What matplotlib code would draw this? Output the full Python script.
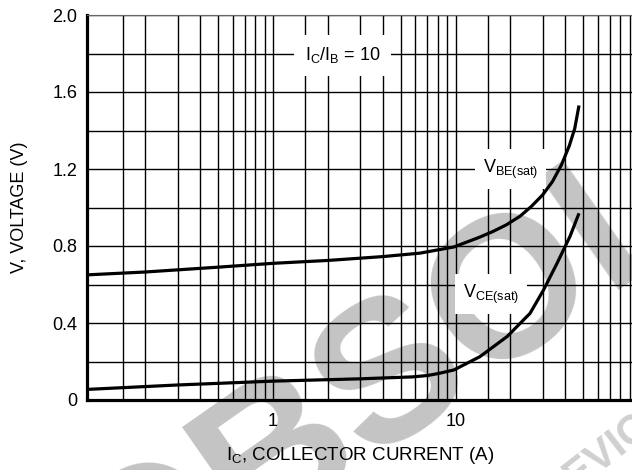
import numpy as np
import matplotlib
matplotlib.use('Agg')
from matplotlib import pyplot as plt
from matplotlib import font_manager
from matplotlib.ticker import FixedLocator, NullFormatter

# saturation voltages vs collector current, IC/IB = 10
ic_vbe = [0.0957, 0.2, 0.5, 1, 2, 4, 6.4, 9.8, 13.5, 16, 19, 22.6, 26, 30, 34, 38, 42, 45, 47.5]
vbe = [0.65, 0.665, 0.69, 0.71, 0.725, 0.745, 0.763, 0.795, 0.845, 0.875, 0.91, 0.955,
       1.005, 1.065, 1.135, 1.22, 1.32, 1.41, 1.53]

ic_vce = [0.0957, 0.3, 1, 3, 5.8, 7, 8, 9.8, 13.6, 19.2, 25.6, 30.3, 36, 42.4, 47.5]
vce = [0.055, 0.078, 0.098, 0.11, 0.12, 0.127, 0.137, 0.156, 0.225, 0.33, 0.45, 0.57,
       0.71, 0.85, 0.97]

x_ticks = [1, 10]
x_ticklabels = ['1', '10']
y_ticks = [0, 0.4, 0.8, 1.2, 1.6, 2.0]
y_ticklabels = ['0', '0.4', '0.8', '1.2', '1.6', '2.0']
grid_mult = [1.5, 2, 3, 4, 5, 6, 7, 8, 9, 10]
decades = [0.1, 1, 10]

names = {f.name for f in font_manager.fontManager.ttflist}
font = 'Liberation Sans Narrow' if 'Liberation Sans Narrow' in names else 'Liberation Sans'
plt.rcParams['font.family'] = [font, 'DejaVu Sans']

fig = plt.figure(figsize=(6.32, 4.70), dpi=100)
ax = fig.add_axes([87/632, 70/470, 545/632, 385/470])
ax.patch.set_alpha(0)

# watermark behind the grid
fig.text(546/632, 1 - 272/470, 'OBSOLETE', rotation=35, rotation_mode='anchor',
         fontsize=145, color='#c4c4c4', ha='center', va='center',
         fontweight='bold', family='Liberation Sans', zorder=-5)
fig.text(606/632, 1 - 452/470, 'DEVICE', rotation=38, rotation_mode='anchor',
         fontsize=30, color='#d0d0d0', ha='center', va='center',
         fontweight='bold', family='Liberation Sans', zorder=-5)

ax.set_xscale('log')
ax.set_xlim(0.0957, 92.7)
ax.set_ylim(0, 2.0)

grid_x = [d * m for d in decades for m in grid_mult]
ax.xaxis.set_major_locator(FixedLocator(x_ticks))
ax.set_xticklabels(x_ticklabels)
ax.xaxis.set_minor_locator(FixedLocator(grid_x))
ax.xaxis.set_minor_formatter(NullFormatter())
ax.set_yticks(y_ticks)
ax.set_yticklabels(y_ticklabels)
ax.yaxis.set_minor_locator(FixedLocator(np.arange(0, 2.01, 0.2)))

ax.tick_params(which='both', length=0, labelsize=13)
ax.tick_params(axis='x', pad=9)
ax.tick_params(axis='y', pad=7)
ax.grid(which='both', color='black', linewidth=1.0)
ax.set_axisbelow(True)

for s in ['left', 'bottom']:
    ax.spines[s].set_linewidth(2.3)
ax.spines['right'].set_visible(False)
ax.spines['top'].set_linewidth(0.8)
ax.spines['top'].set_color('#666666')

ax.plot(ic_vbe, vbe, color='black', linewidth=2.3, zorder=5, solid_capstyle='butt')
ax.plot(ic_vce, vce, color='black', linewidth=2.3, zorder=5, solid_capstyle='butt')

box = dict(boxstyle='square,pad=0.45', facecolor='white', edgecolor='none')
ax.text(2.4, 1.79, r'$\mathregular{I_C/I_B}$ = 10', fontsize=13, ha='center', va='center',
        bbox=dict(boxstyle='square,pad=0.6', facecolor='white', edgecolor='none'), zorder=3)
ax.text(20, 1.2, r'$\mathregular{V_{BE(sat)}}$', fontsize=13, ha='center', va='center',
        bbox=box, zorder=3)
ax.text(15.7, 0.55, r'$\mathregular{V_{CE(sat)}}$', fontsize=13, ha='center', va='center',
        bbox=box, zorder=3)

fig.text(20/632, 1 - 207/470, 'V, VOLTAGE (V)', rotation=90, fontsize=13,
         ha='center', va='center')
fig.text(360/632, 1 - 460/470, r'$\mathregular{I_C}$, COLLECTOR CURRENT (A)', fontsize=13.5,
         ha='center', va='baseline')

fig.savefig('out.png', dpi=100)
